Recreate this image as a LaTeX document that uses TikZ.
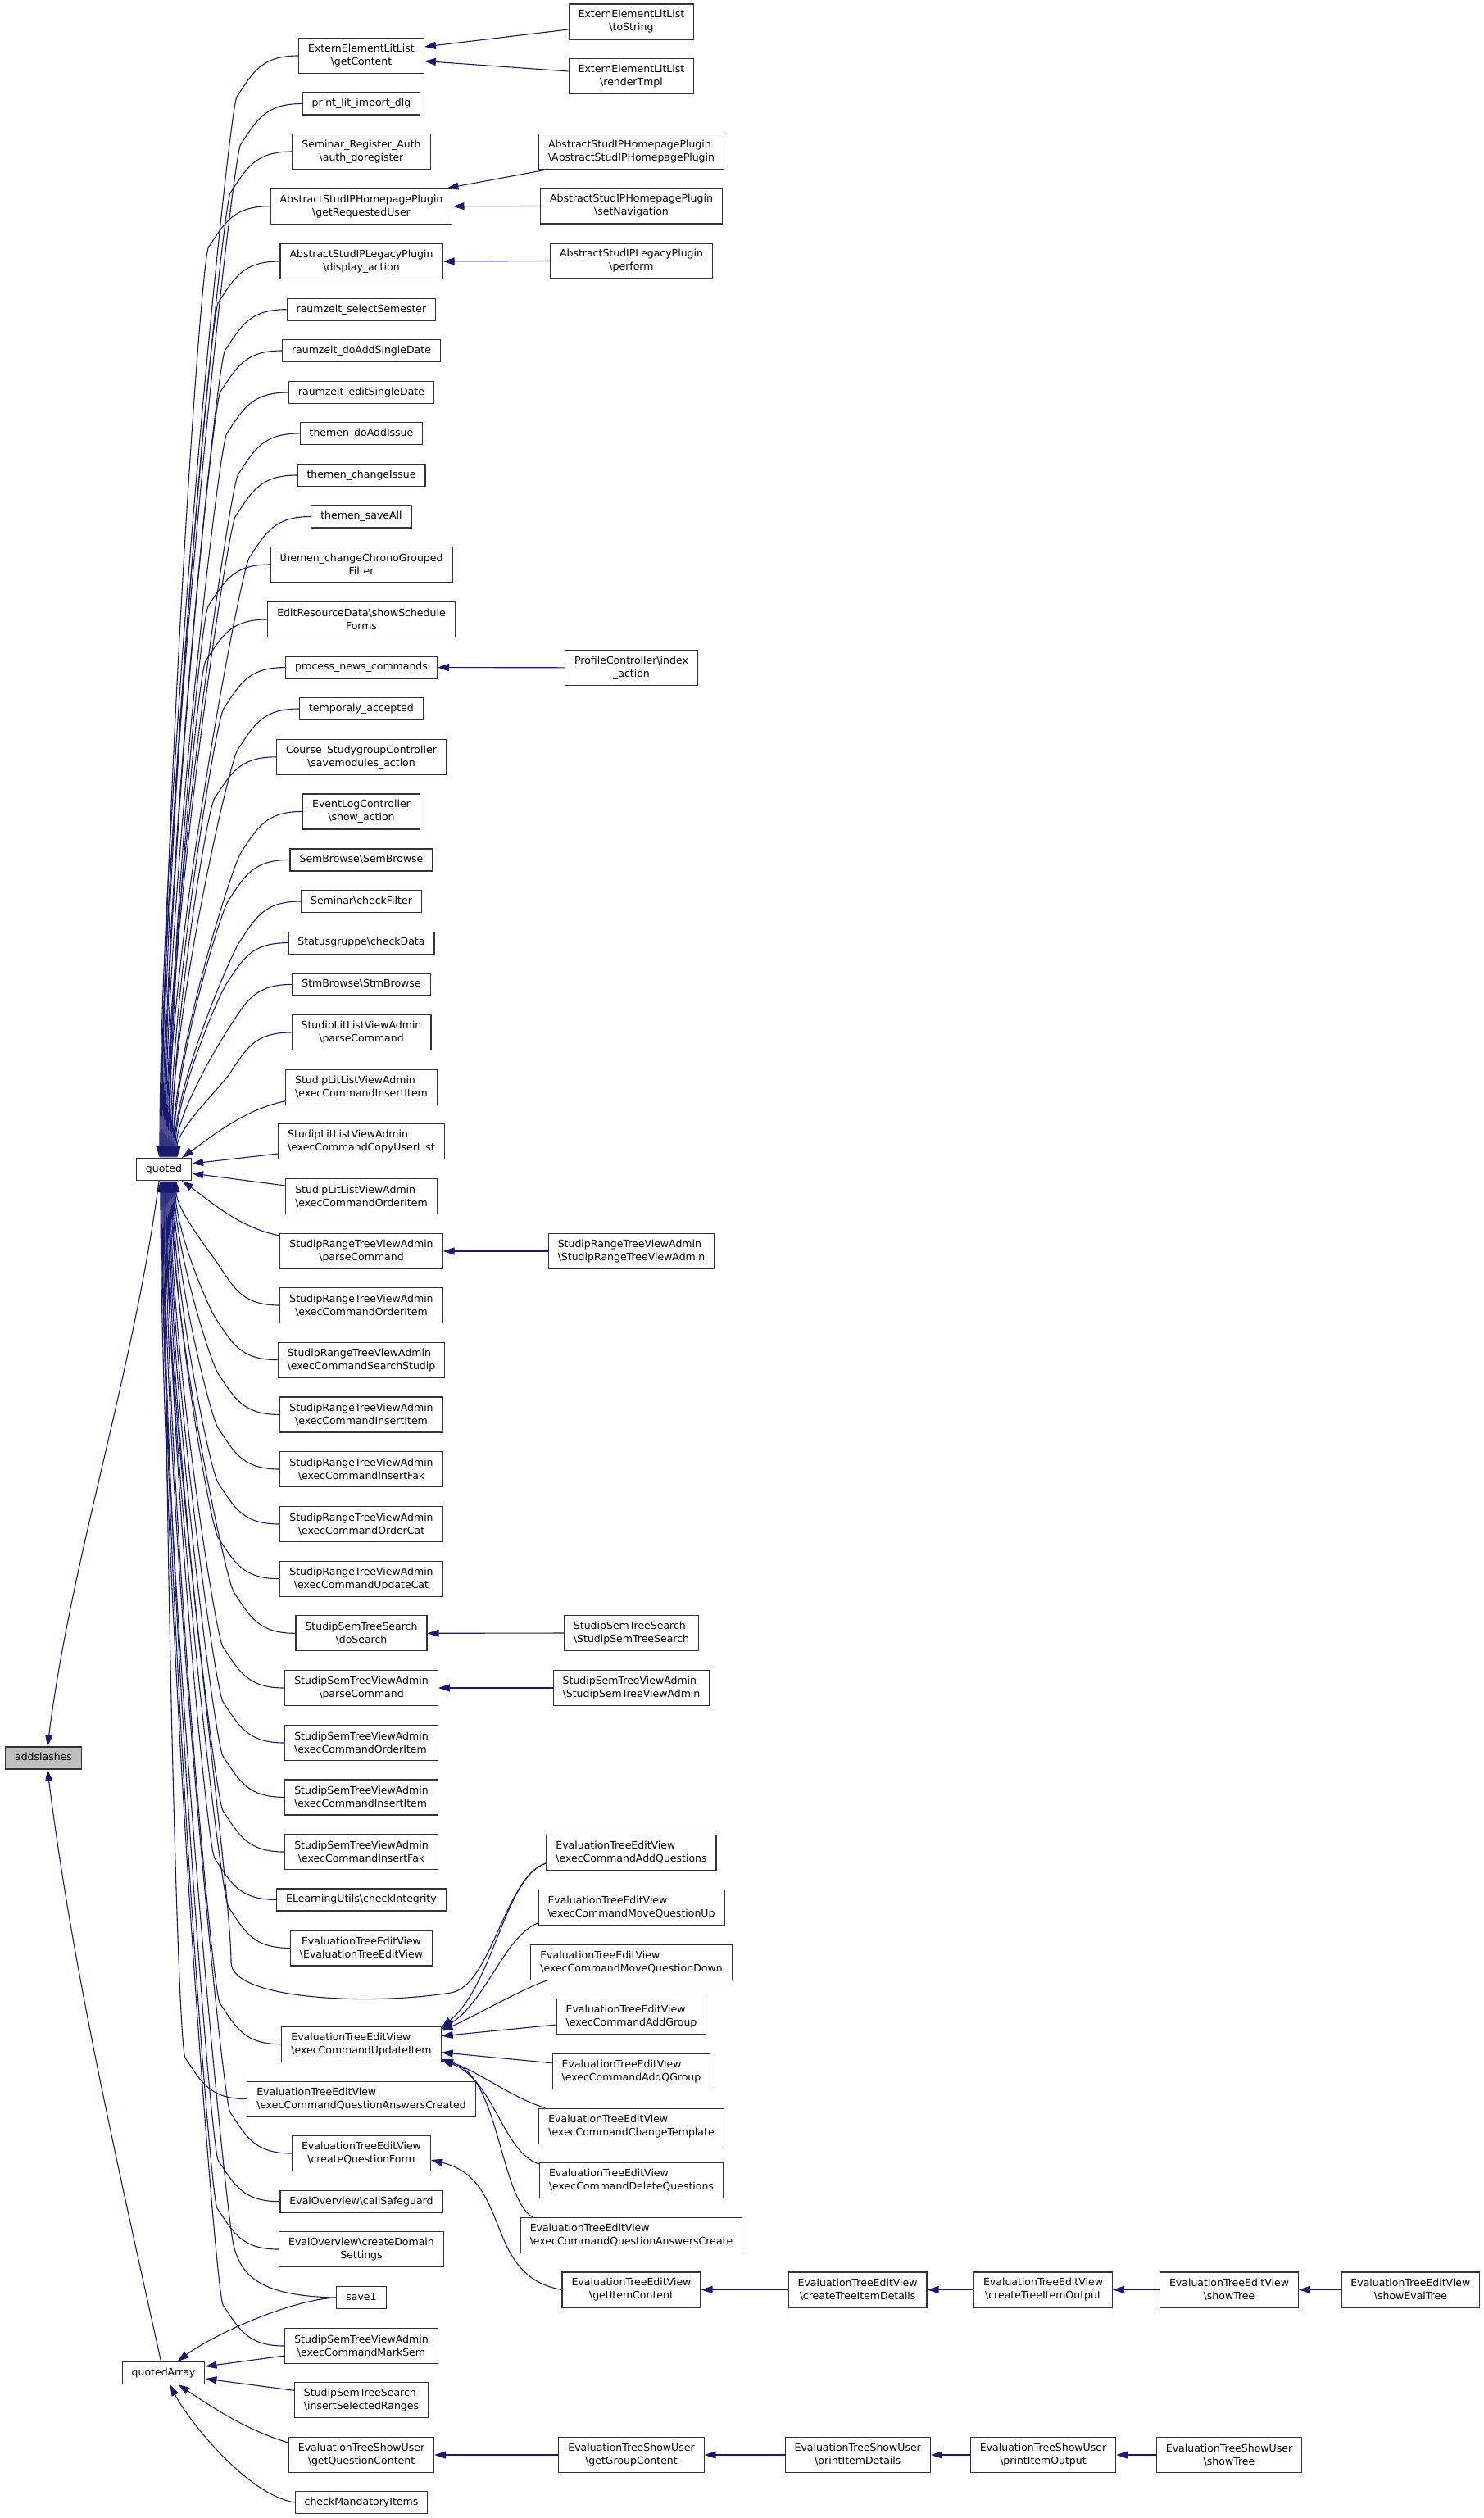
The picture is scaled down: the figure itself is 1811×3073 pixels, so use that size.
\documentclass[tikz,border=0pt]{standalone}
\usepackage{fontspec}
\setmainfont{DejaVu Sans}
\usetikzlibrary{arrows.meta, calc}
\definecolor{edgeblue}{HTML}{191970}
\newcommand{\bksl}{\textbackslash}

\begin{document}
\begin{tikzpicture}[x=1pt, y=-1pt,
    every node/.style={font=\fontsize{12.5}{16}\selectfont},
    fn/.style={draw=black!80, line width=1.2pt, fill=white, inner xsep=11.5pt, inner ysep=7.25pt, text height=9.6pt, text depth=2.9pt},
    fn2/.style={draw=black!80, line width=1.2pt, fill=white, inner xsep=11.5pt, inner ysep=0pt, minimum height=43pt, align=center},
    fn2l/.style={fn2, align=left},
    call/.style={-{Triangle[length=14pt, width=9pt]}, draw=edgeblue, line width=1.1pt},
    callup/.style={to path={.. controls +(-45,0) and +(20,-30) .. ($(\tikztostart)+(-75,50)$) .. controls +(-10,15) and +(0,-#1) .. (\tikztotarget)}},
    calldown/.style={to path={.. controls +(-45,0) and +(20,30) .. ($(\tikztostart)+(-75,-50)$) .. controls +(-10,-15) and +(0,#1) .. (\tikztotarget)}}
]
\useasboundingbox (0,0) rectangle (1811,3073);

% Callees
\node[fn, fill=black!25] (as) at (53,2145.5) {addslashes};
\node[fn] (qt) at (200,1427) {quoted};
\node[fn] (qa) at (199.5,2896) {quotedArray};

% Direct callers
\node[fn2] (m01) at (441,68) {ExternElementLitList\\\bksl getContent};
\node[fn] (m02) at (441,126.5) {print\_lit\_import\_dlg};
\node[fn2] (m03) at (441,185) {Seminar\_Register\_Auth\\\bksl auth\_doregister};
\node[fn2] (m04) at (441,251.7) {AbstractStudIPHomepagePlugin\\\bksl getRequestedUser};
\node[fn2] (m05) at (441,319) {AbstractStudIPLegacyPlugin\\\bksl display\_action};
\node[fn] (m06) at (441,377.7) {raumzeit\_selectSemester};
\node[fn] (m07) at (441,428) {raumzeit\_doAddSingleDate};
\node[fn] (m08) at (441,479) {raumzeit\_editSingleDate};
\node[fn] (m09) at (441,529) {themen\_doAddIssue};
\node[fn] (m10) at (441,580) {themen\_changeIssue};
\node[fn] (m11) at (441,630.5) {themen\_saveAll};
\node[fn2] (m12) at (441,689) {themen\_changeChronoGrouped\\Filter};
\node[fn2] (m13) at (441,756) {EditResourceData\bksl showSchedule\\Forms};
\node[fn] (m14) at (441,814.6) {process\_news\_commands};
\node[fn] (m15) at (441,865) {temporaly\_accepted};
\node[fn2] (m16) at (441,923.8) {Course\_StudygroupController\\\bksl savemodules\_action};
\node[fn2] (m17) at (441,990.4) {EventLogController\\\bksl show\_action};
\node[fn] (m18) at (441,1049.4) {SemBrowse\bksl SemBrowse};
\node[fn] (m19) at (441,1100) {Seminar\bksl checkFilter};
\node[fn] (m20) at (441,1150.6) {Statusgruppe\bksl checkData};
\node[fn] (m21) at (441,1201.4) {StmBrowse\bksl StmBrowse};
\node[fn2] (m22) at (441,1260) {StudipLitListViewAdmin\\\bksl parseCommand};
\node[fn2l] (m23) at (441,1326.8) {StudipLitListViewAdmin\\\bksl execCommandInsertItem};
\node[fn2l] (m24) at (441,1393) {StudipLitListViewAdmin\\\bksl execCommandCopyUserList};
\node[fn2l] (m25) at (441,1460) {StudipLitListViewAdmin\\\bksl execCommandOrderItem};
\node[fn2] (m26) at (441,1527) {StudipRangeTreeViewAdmin\\\bksl parseCommand};
\node[fn2] (m27) at (441,1593) {StudipRangeTreeViewAdmin\\\bksl execCommandOrderItem};
\node[fn2l] (m28) at (441,1659.6) {StudipRangeTreeViewAdmin\\\bksl execCommandSearchStudip};
\node[fn2] (m29) at (441,1726.4) {StudipRangeTreeViewAdmin\\\bksl execCommandInsertItem};
\node[fn2] (m30) at (441,1793) {StudipRangeTreeViewAdmin\\\bksl execCommandInsertFak};
\node[fn2] (m31) at (441,1860) {StudipRangeTreeViewAdmin\\\bksl execCommandOrderCat};
\node[fn2] (m32) at (441,1926.7) {StudipRangeTreeViewAdmin\\\bksl execCommandUpdateCat};
\node[fn2] (m33) at (441,1993.3) {StudipSemTreeSearch\\\bksl doSearch};
\node[fn2] (m34) at (441,2060) {StudipSemTreeViewAdmin\\\bksl parseCommand};
\node[fn2l] (m35) at (441,2127) {StudipSemTreeViewAdmin\\\bksl execCommandOrderItem};
\node[fn2l] (m36) at (441,2193.4) {StudipSemTreeViewAdmin\\\bksl execCommandInsertItem};
\node[fn2] (m37) at (441,2260) {StudipSemTreeViewAdmin\\\bksl execCommandInsertFak};
\node[fn] (m38) at (441,2318.4) {ELearningUtils\bksl checkIntegrity};
\node[fn2] (m39) at (441,2377.4) {EvaluationTreeEditView\\\bksl EvaluationTreeEditView};
\node[fn2l] (m40) at (441,2494.7) {EvaluationTreeEditView\\\bksl execCommandUpdateItem};
\node[fn2l] (m41) at (441,2561.6) {EvaluationTreeEditView\\\bksl execCommandQuestionAnswersCreated};
\node[fn2] (m42) at (441,2628) {EvaluationTreeEditView\\\bksl createQuestionForm};
\node[fn] (m43) at (441,2686.7) {EvalOverview\bksl callSafeguard};
\node[fn2] (m44) at (441,2745) {EvalOverview\bksl createDomain\\Settings};
\node[fn] (m45) at (441,2804) {save1};
\node[fn2] (m46) at (441,2863) {StudipSemTreeViewAdmin\\\bksl execCommandMarkSem};
\node[fn2l] (m47) at (441,2929.3) {StudipSemTreeSearch\\\bksl insertSelectedRanges};
\node[fn2] (m48) at (441,2996) {EvaluationTreeShowUser\\\bksl getQuestionContent};
\node[fn] (m49) at (441,3054) {checkMandatoryItems};

% Second level
\node[fn2] (r01) at (770.5,26.5) {ExternElementLitList\\\bksl toString};
\node[fn2] (r02) at (770.5,93) {ExternElementLitList\\\bksl renderTmpl};
\node[fn2l] (r03) at (770.5,185) {AbstractStudIPHomepagePlugin\\\bksl AbstractStudIPHomepagePlugin};
\node[fn2] (r04) at (770.5,251.5) {AbstractStudIPHomepagePlugin\\\bksl setNavigation};
\node[fn2] (r05) at (770.5,318.5) {AbstractStudIPLegacyPlugin\\\bksl perform};
\node[fn2] (r06) at (770.5,814.8) {ProfileController\bksl index\\\_action};
\node[fn2l] (r07) at (770.5,1527) {StudipRangeTreeViewAdmin\\\bksl StudipRangeTreeViewAdmin};
\node[fn2l] (r08) at (770.5,1993) {StudipSemTreeSearch\\\bksl StudipSemTreeSearch};
\node[fn2l] (r09) at (770.5,2060) {StudipSemTreeViewAdmin\\\bksl StudipSemTreeViewAdmin};
\node[fn2l] (r10) at (770.5,2261) {EvaluationTreeEditView\\\bksl execCommandAddQuestions};
\node[fn2l] (r11) at (770.5,2328) {EvaluationTreeEditView\\\bksl execCommandMoveQuestionUp};
\node[fn2l] (r12) at (770.5,2394.6) {EvaluationTreeEditView\\\bksl execCommandMoveQuestionDown};
\node[fn2l] (r13) at (770.5,2461) {EvaluationTreeEditView\\\bksl execCommandAddGroup};
\node[fn2l] (r14) at (770.5,2527.7) {EvaluationTreeEditView\\\bksl execCommandAddQGroup};
\node[fn2l] (r15) at (770.5,2594.6) {EvaluationTreeEditView\\\bksl execCommandChangeTemplate};
\node[fn2l] (r16) at (770.5,2661) {EvaluationTreeEditView\\\bksl execCommandDeleteQuestions};
\node[fn2l] (r17) at (770.5,2728) {EvaluationTreeEditView\\\bksl execCommandQuestionAnswersCreate};
\node[fn2] (r18) at (770.5,2794.4) {EvaluationTreeEditView\\\bksl getItemContent};
\node[fn2] (r19) at (770.5,2996) {EvaluationTreeShowUser\\\bksl getGroupContent};

% Chains
\node[fn2] (e1) at (1046.6,2794.4) {EvaluationTreeEditView\\\bksl createTreeItemDetails};
\node[fn2] (e2) at (1273,2794.4) {EvaluationTreeEditView\\\bksl createTreeItemOutput};
\node[fn2] (e3) at (1500,2794.4) {EvaluationTreeEditView\\\bksl showTree};
\node[fn2] (e4) at (1721.4,2794.4) {EvaluationTreeEditView\\\bksl showEvalTree};
\node[fn2] (u1) at (1046.7,2996) {EvaluationTreeShowUser\\\bksl printItemDetails};
\node[fn2] (u2) at (1273,2996) {EvaluationTreeShowUser\\\bksl printItemOutput};
\node[fn2] (u3) at (1500,2996) {EvaluationTreeShowUser\\\bksl showTree};

% quoted/quotedArray -> addslashes
\draw[call] ([xshift=-6pt]qt.south) .. controls +(-30,230) and +(29,-230) .. ([xshift=5pt]as.north);
\draw[call] ([xshift=-3pt]qa.north) .. controls +(-53,-240) and +(30,240) .. ([xshift=5pt]as.south);

% into quoted from above
\draw[call] (m01.west) to[callup=450] ([xshift=-5pt]qt.north);
\draw[call] (m02.west) to[callup=430] ([xshift=-4pt]qt.north);
\draw[call] (m03.west) to[callup=410] ([xshift=-3pt]qt.north);
\draw[call] (m04.west) to[callup=390] ([xshift=-2pt]qt.north);
\draw[call] (m05.west) to[callup=365] ([xshift=-1pt]qt.north);
\draw[call] (m06.west) to[callup=345] (qt.north);
\draw[call] (m07.west) to[callup=325] ([xshift=1pt]qt.north);
\draw[call] (m08.west) to[callup=310] ([xshift=2pt]qt.north);
\draw[call] (m09.west) to[callup=290] ([xshift=3pt]qt.north);
\draw[call] (m10.west) to[callup=275] ([xshift=4pt]qt.north);
\draw[call] (m11.west) to[callup=255] ([xshift=5pt]qt.north);
\draw[call] (m12.west) to[callup=235] ([xshift=6pt]qt.north);
\draw[call] (m13.west) to[callup=210] ([xshift=7pt]qt.north);
\draw[call] (m14.west) to[callup=190] ([xshift=8pt]qt.north);
\draw[call] (m15.west) to[callup=175] ([xshift=9pt]qt.north);
\draw[call] (m16.west) to[callup=155] ([xshift=10pt]qt.north);
\draw[call] (m17.west) to[callup=130] ([xshift=11pt]qt.north);
\draw[call] (m18.west) to[callup=110] ([xshift=12pt]qt.north);
\draw[call] (m19.west) to[callup=90] ([xshift=13pt]qt.north);
\draw[call] (m20.west) to[callup=75] ([xshift=14pt]qt.north);
\draw[call] (m21.west) to[callup=55] ([xshift=15pt]qt.north);
\draw[call] (m22.west) to[callup=35] ([xshift=16pt]qt.north);
% beside quoted
\draw[call] ([yshift=-17pt]m23.west) .. controls +(-50,10) and +(35,-25) .. ([xshift=-12pt]qt.north east);
\draw[call] ([yshift=-15pt]m24.west) -- ([yshift=7pt]qt.east);
\draw[call] ([yshift=13pt]m25.west) -- ([yshift=-5pt]qt.east);
\draw[call] ([yshift=19pt]m26.west) .. controls +(-50,-10) and +(35,25) .. ([xshift=-12pt]qt.south east);
% into quoted from below
\draw[call] (m27.west) to[calldown=35] ([xshift=15pt]qt.south);
\draw[call] (m28.west) to[calldown=60] ([xshift=14pt]qt.south);
\draw[call] (m29.west) to[calldown=80] ([xshift=13pt]qt.south);
\draw[call] (m30.west) to[calldown=105] ([xshift=12pt]qt.south);
\draw[call] (m31.west) to[calldown=130] ([xshift=11pt]qt.south);
\draw[call] (m32.west) to[calldown=150] ([xshift=10pt]qt.south);
\draw[call] (m33.west) to[calldown=175] ([xshift=9pt]qt.south);
\draw[call] (m34.west) to[calldown=200] ([xshift=8pt]qt.south);
\draw[call] (m35.west) to[calldown=220] ([xshift=7pt]qt.south);
\draw[call] (m36.west) to[calldown=245] ([xshift=6pt]qt.south);
\draw[call] (m37.west) to[calldown=270] ([xshift=5pt]qt.south);
\draw[call] (m38.west) to[calldown=290] ([xshift=4pt]qt.south);
\draw[call] (m39.west) to[calldown=310] ([xshift=3pt]qt.south);
\draw[call] (m40.west) to[calldown=350] ([xshift=2pt]qt.south);
\draw[call] (m41.west) to[calldown=375] ([xshift=1pt]qt.south);
\draw[call] (m42.west) to[calldown=400] (qt.south);
\draw[call] (m43.west) to[calldown=420] ([xshift=-1pt]qt.south);
\draw[call] (m44.west) to[calldown=440] ([xshift=-2pt]qt.south);
\draw[call] (m45.west) .. controls +(-90,-2) and +(10,40) .. (285,2740) .. controls +(-10,-40) and +(0,460) .. ([xshift=-3pt]qt.south);
\draw[call] (m46.west) to[calldown=480] ([xshift=-4pt]qt.south);
\draw[call] ([yshift=-13pt]r10.west) .. controls +(-50,15) and +(50,-8) .. (550,2432) .. controls +(-100,16) and +(0,45) .. (282,2395) .. controls +(0,-100) and +(0,300) .. ([xshift=2pt]qt.south);

% into quotedArray
\draw[call] (m45.west) .. controls +(-60,3) and +(40,-30) .. ([xshift=17pt]qa.north);
\draw[call] ([yshift=-12pt]m46.west) -- ([yshift=8pt]qa.east);
\draw[call] ([yshift=12pt]m47.west) -- ([yshift=-7pt]qa.east);
\draw[call] ([yshift=15pt]m48.west) .. controls +(-50,-15) and +(45,30) .. ([xshift=18pt]qa.south);
\draw[call] (m49.west) .. controls +(-60,-10) and +(20,40) .. ([xshift=8pt]qa.south);

% second level -> direct callers
\draw[call] ([yshift=-9.5pt]r01.west) -- ([yshift=11pt]m01.east);
\draw[call] ([yshift=6pt]r02.west) -- ([yshift=-6.5pt]m01.east);
\draw[call] ([xshift=10pt]r03.south west) -- ([xshift=-7pt]m04.north east);
\draw[call] (r04.west) -- (m04.east);
\draw[call] (r05.west) -- (m05.east);
\draw[call] (r06.west) -- (m14.east);
\draw[call] (r07.west) -- (m26.east);
\draw[call] (r08.west) -- (m33.east);
\draw[call] (r09.west) -- (m34.east);
\draw[call] (r19.west) -- (m48.east);
\draw[call] (r18.west) .. controls +(-97,-17) and +(100,24) .. ([yshift=-8pt]m42.east);

% callers of execCommandUpdateItem
\draw[call] ([yshift=-13pt]r10.west) .. controls +(-50,15) and +(65,-55) .. ([yshift=-2pt]m40.north east);
\draw[call] ([yshift=-19pt]r11.west) .. controls +(-40,15) and +(55,-35) .. ([yshift=-4pt]m40.north east);
\draw[call] ([xshift=21pt]r12.south west) .. controls +(-30,10) and +(40,-18) .. ([yshift=-6pt]m40.north east);
\draw[call] ([yshift=-10pt]r13.west) -- ([yshift=10pt]m40.east);
\draw[call] ([yshift=10pt]r14.west) -- ([yshift=-10pt]m40.east);
\draw[call] ([xshift=8pt]r15.north west) .. controls +(-40,-12) and +(45,15) .. ([yshift=4pt]m40.south east);
\draw[call] ([yshift=20pt]r16.west) .. controls +(-45,-15) and +(65,25) .. ([yshift=3pt]m40.south east);
\draw[call] ([xshift=15pt]r17.north west) .. controls +(-40,-26) and +(70,16) .. ([yshift=2pt]m40.south east);

% chains
\draw[call] (e1.west) -- (r18.east);
\draw[call] (e2.west) -- (e1.east);
\draw[call] (e3.west) -- (e2.east);
\draw[call] (e4.west) -- (e3.east);
\draw[call] (u1.west) -- (r19.east);
\draw[call] (u2.west) -- (u1.east);
\draw[call] (u3.west) -- (u2.east);

\end{tikzpicture}
\end{document}
